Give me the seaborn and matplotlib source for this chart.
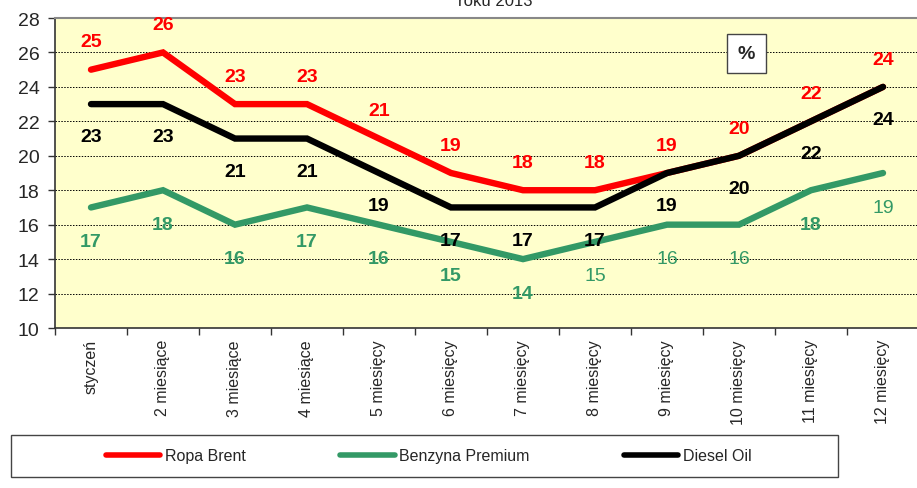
import numpy as np
import pandas as pd
import seaborn as sns
import matplotlib.pyplot as plt
from matplotlib.patches import Rectangle
from matplotlib.ticker import FixedLocator

months = ["styczeń", "2 miesiące", "3 miesiące", "4 miesiące", "5 miesięcy", "6 miesięcy",
          "7 miesięcy", "8 miesięcy", "9 miesięcy", "10 miesięcy", "11 miesięcy", "12 miesięcy"]
brent = [25, 26, 23, 23, 21, 19, 18, 18, 19, 20, 22, 24]
benzyna = [17, 18, 16, 17, 16, 15, 14, 15, 16, 16, 18, 19]
diesel = [23, 23, 21, 21, 19, 17, 17, 17, 19, 20, 22, 24]
series = ["Ropa Brent", "Benzyna Premium", "Diesel Oil"]
colors = ["#FF0000", "#339966", "#000000"]
# label weight per point for Benzyna (some labels are plain in the original)
benz_bold = [1, 1, 1, 1, 1, 1, 1, 0, 0, 0, 1, 0]

df = pd.DataFrame({
    "month": list(range(12)) * 3,
    "value": brent + benzyna + diesel,
    "series": [s for s in series for _ in range(12)],
})

sns.set_style("white")
plt.rcParams["font.family"] = ["Liberation Sans", "DejaVu Sans"]

fig = plt.figure(figsize=(9.17, 4.89), dpi=100)
ax = fig.add_axes([55 / 917, 160 / 489, 864 / 917, 310 / 489])
ax.set_facecolor("#FFFFCC")

sns.lineplot(data=df, x="month", y="value", hue="series", hue_order=series,
             palette=colors, linewidth=4.6, ax=ax, legend=True, zorder=3)
for ln in ax.lines:
    ln.set_solid_capstyle("round")
    ln.set_solid_joinstyle("miter")

# data labels
for i in range(12):
    ax.annotate(str(brent[i]), (i, brent[i]), xytext=(0, 20), textcoords="offset points",
                ha="center", va="center", color=colors[0], fontsize=14, fontweight="bold")
    ax.annotate(str(diesel[i]), (i, diesel[i]), xytext=(0, -23.5), textcoords="offset points",
                ha="center", va="center", color=colors[2], fontsize=14, fontweight="bold")
    ax.annotate(str(benzyna[i]), (i, benzyna[i]), xytext=(0, -24.5), textcoords="offset points",
                ha="center", va="center", color=colors[1], fontsize=14,
                fontweight="bold" if benz_bold[i] else "normal")

ax.set_xlim(-0.5, 11.5)
ax.set_ylim(10, 28)
ax.set_yticks(range(10, 29, 2))
ax.yaxis.grid(True, color="black", linestyle=(0, (1.5, 1.5)), linewidth=0.7)
ax.set_axisbelow(True)
ax.tick_params(axis="y", left=True, length=5, width=1, color="#333333", labelsize=14, pad=6)

ax.set_xticks(range(12))
ax.set_xticklabels(months, rotation=90, fontsize=11.5)
ax.xaxis.set_minor_locator(FixedLocator(np.arange(-0.5, 12, 1)))
ax.tick_params(axis="x", which="major", length=0, pad=8)
ax.tick_params(axis="x", which="minor", bottom=True, length=5, width=1, color="#333333")
ax.set_xlabel("")
ax.set_ylabel("")

for side in ["left", "bottom"]:
    ax.spines[side].set_color("#333333")
    ax.spines[side].set_linewidth(1.2)
ax.spines["top"].set_color("#888888")
ax.spines["top"].set_linewidth(1.5)
ax.spines["right"].set_visible(False)

ax.text(0.8, 0.885, "%", transform=ax.transAxes, ha="center", va="center",
        fontsize=14, fontweight="bold",
        bbox=dict(boxstyle="square,pad=0.55", facecolor="white", edgecolor="#444444", linewidth=1))

handles, labels = ax.get_legend_handles_labels()
ax.get_legend().remove()
for h in handles:
    h.set_linewidth(4)
fig.patches.append(Rectangle((11 / 917, 11 / 489), 827 / 917, 42 / 489, transform=fig.transFigure,
                             facecolor="white", edgecolor="#444444", linewidth=1, zorder=0))
leg = fig.legend(handles, labels, ncol=3, loc="center left",
                 bbox_to_anchor=(106 / 917, 32 / 489),
                 fontsize=11.5, handlelength=3.4, handletextpad=0.3, columnspacing=5.9,
                 frameon=False, borderaxespad=0, borderpad=0)

fig.text(0.54, 1 - 6 / 489, "roku 2013", ha="center", va="baseline", fontsize=12)

fig.savefig("out.png", dpi=100)
